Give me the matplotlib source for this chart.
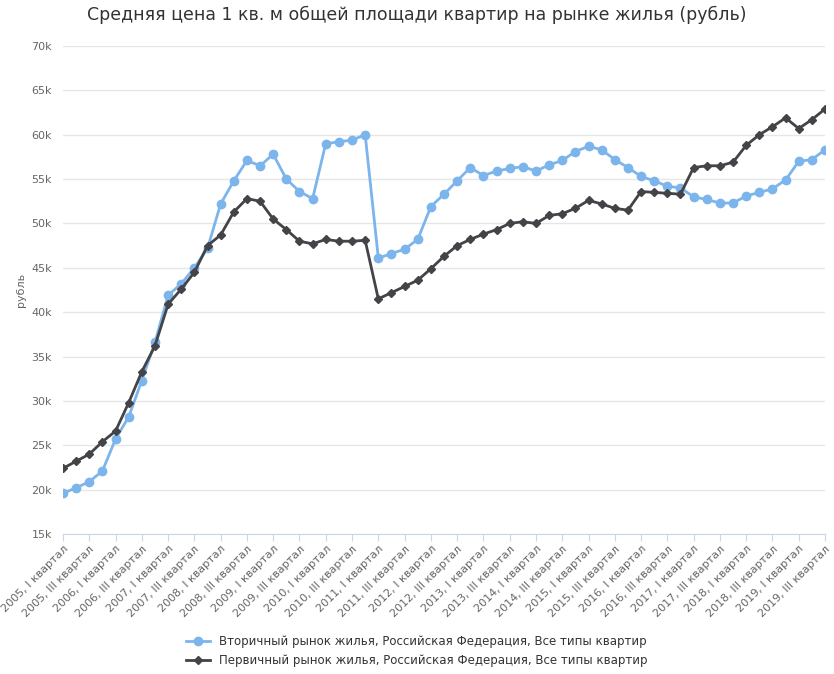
import matplotlib
matplotlib.use("Agg")
import matplotlib.pyplot as plt
from matplotlib.ticker import FuncFormatter

roman = ["I", "II", "III", "IV"]
years = list(range(2005, 2020))
quarters = [f"{y}, {r} квартал" for y in years for r in roman][:59]

secondary = [19.6, 20.2, 20.9, 22.1, 25.7, 28.2, 32.3, 36.6, 41.9, 43.2, 45.0, 47.2,
             52.2, 54.8, 57.1, 56.5, 57.8, 55.0, 53.6, 52.8, 59.0, 59.2, 59.4, 60.0,
             46.1, 46.6, 47.1, 48.2, 51.9, 53.3, 54.8, 56.3, 55.4, 55.9, 56.2, 56.4,
             55.9, 56.6, 57.1, 58.1, 58.7, 58.3, 57.2, 56.3, 55.3, 54.8, 54.2, 54.0,
             53.0, 52.7, 52.3, 52.3, 53.1, 53.5, 53.9, 54.9, 57.0, 57.2, 58.3]
primary = [22.4, 23.2, 24.0, 25.4, 26.6, 29.8, 33.3, 36.2, 40.9, 42.6, 44.5, 47.5,
           48.7, 51.3, 52.8, 52.5, 50.5, 49.3, 48.0, 47.7, 48.2, 48.0, 48.0, 48.1,
           41.5, 42.2, 42.9, 43.6, 44.9, 46.3, 47.5, 48.2, 48.8, 49.3, 50.0, 50.2,
           50.0, 50.9, 51.1, 51.7, 52.6, 52.2, 51.7, 51.5, 53.6, 53.5, 53.4, 53.3,
           56.3, 56.5, 56.5, 56.9, 58.8, 60.0, 60.9, 61.9, 60.7, 61.7, 62.9]
secondary = [v * 1000 for v in secondary]
primary = [v * 1000 for v in primary]

fig = plt.figure(figsize=(8.34, 6.74), dpi=100)
ax = fig.add_axes([63/834, 1-534/674, (825-63)/834, (534-46)/674])
x = list(range(len(quarters)))
ax.plot(x, secondary, color="#7cb5ec", marker="o", markersize=6, lw=2,
        label="Вторичный рынок жилья, Российская Федерация, Все типы квартир")
ax.plot(x, primary, color="#434348", marker="D", markersize=4.5, lw=2,
        label="Первичный рынок жилья, Российская Федерация, Все типы квартир")
ax.set_ylim(15000, 70000)
ax.set_yticks(range(15000, 70001, 5000))
ax.yaxis.set_major_formatter(FuncFormatter(lambda v, p: f"{int(v/1000)}k"))
ax.set_xlim(0, len(quarters) - 1)
ax.set_xticks(x[::2])
ax.set_xticklabels(quarters[::2], rotation=45, ha="right", rotation_mode="anchor",
                   fontsize=8, color="#666666")
ax.tick_params(axis="y", length=0, labelsize=8, colors="#666666", pad=8)
ax.tick_params(axis="x", length=5, color="#ccd6eb", pad=2)
ax.grid(axis="y", color="#e6e6e6", lw=1)
for s in ["top", "right", "left"]:
    ax.spines[s].set_visible(False)
ax.spines["bottom"].set_color("#ccd6eb")
ax.set_ylabel("рубль", fontsize=8, color="#666666")
fig.text(0.5, 1-15/674, "Средняя цена 1 кв. м общей площади квартир на рынке жилья (рубль)",
         ha="center", va="center", fontsize=12.5, color="#333333")
fig.legend(loc="lower center", bbox_to_anchor=(0.5, -0.005), frameon=False, fontsize=8.5,
           handlelength=2, labelcolor="#333333")
fig.savefig("out.png", dpi=100)
